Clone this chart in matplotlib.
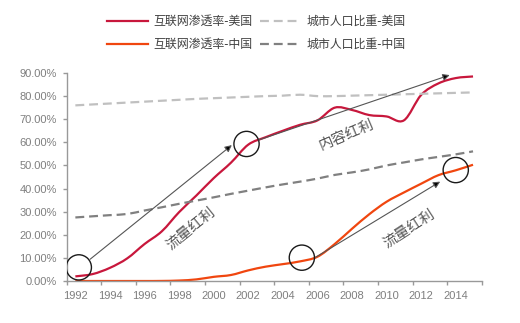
import numpy as np
import matplotlib
matplotlib.use('Agg')
import matplotlib.pyplot as plt
from matplotlib.ticker import FuncFormatter
from matplotlib.path import Path
from matplotlib.patches import PathPatch
from matplotlib.lines import Line2D

plt.rcParams['font.family'] = ['Liberation Sans', 'Noto Sans CJK SC', 'DejaVu Sans']

years = list(range(1992, 2016))

# internet penetration / urban share, in fraction
us_internet = [0.020, 0.030, 0.057, 0.098, 0.160, 0.215, 0.298, 0.370, 0.445, 0.512,
               0.590, 0.622, 0.650, 0.676, 0.695, 0.750, 0.740, 0.718, 0.712, 0.695,
               0.805, 0.855, 0.878, 0.885]
us_urban = [0.760, 0.764, 0.768, 0.772, 0.776, 0.780, 0.784, 0.788, 0.791, 0.794,
            0.797, 0.800, 0.802, 0.806, 0.800, 0.800, 0.802, 0.804, 0.806, 0.808,
            0.810, 0.812, 0.814, 0.816]
cn_internet = [0.0, 0.0, 0.0, 0.0, 0.0, 0.0003, 0.002, 0.007, 0.018, 0.026,
               0.046, 0.062, 0.073, 0.085, 0.105, 0.160, 0.226, 0.289, 0.343, 0.383,
               0.421, 0.458, 0.479, 0.503]
cn_urban = [0.275, 0.280, 0.285, 0.290, 0.305, 0.319, 0.334, 0.348, 0.362, 0.377,
            0.391, 0.405, 0.418, 0.430, 0.443, 0.459, 0.470, 0.483, 0.500, 0.513,
            0.526, 0.537, 0.548, 0.561]

labels = ['互联网渗透率-美国', '互联网渗透率-中国', '城市人口比重-美国', '城市人口比重-中国']

# annotation marks (year, value)
circles = [(1992.2, 0.059), (2001.9, 0.593), (2005.1, 0.101), (2014.0, 0.480)]
arrows = [((1992.85, 0.094), (2001.05, 0.588)),
          ((2002.6, 0.610), (2013.65, 0.891)),
          ((2005.9, 0.103), (2013.1, 0.430))]
notes = [('流量红利', 1998.7, 0.228, 39), ('内容红利', 2007.7, 0.632, 23),
         ('流量红利', 2011.3, 0.228, 33)]


def smooth_path(x, y):
    # Excel-like smoothed line: cubic bezier through the points
    x = np.asarray(x, float)
    y = np.asarray(y, float)
    n = len(x)
    verts = [(x[0], y[0])]
    codes = [Path.MOVETO]
    for i in range(n - 1):
        i0 = max(i - 1, 0)
        i3 = min(i + 2, n - 1)
        c1 = (x[i] + (x[i + 1] - x[i0]) / 6, y[i] + (y[i + 1] - y[i0]) / 6)
        c2 = (x[i + 1] - (x[i3] - x[i]) / 6, y[i + 1] - (y[i3] - y[i]) / 6)
        verts += [c1, c2, (x[i + 1], y[i + 1])]
        codes += [Path.CURVE4] * 3
    return Path(verts, codes)


fig = plt.figure(figsize=(5.2, 3.23), dpi=100)
ax = fig.add_axes([0.1283, 0.130, 0.798, 0.644])

series = [(us_internet, '#C8173C', '-'), (cn_internet, '#F0460F', '-'),
          (us_urban, '#C0C0C0', (0, (4, 2.2))), (cn_urban, '#808080', (0, (4, 2.2)))]
handles = []
for vals, col, ls in series:
    ax.add_patch(PathPatch(smooth_path(years, vals), facecolor='none', edgecolor=col,
                           lw=1.6, linestyle=ls, capstyle='butt', joinstyle='round'))
    handles.append(Line2D([], [], color=col, lw=1.6, linestyle=ls))

for cx, cy in circles:
    ax.scatter([cx], [cy], s=330, facecolors='none', edgecolors='#1a1a1a', linewidths=1.0, zorder=5)

for (x0, y0), (x1, y1) in arrows:
    ax.annotate('', xy=(x1, y1), xytext=(x0, y0),
                arrowprops=dict(arrowstyle='-|>', mutation_scale=10, lw=0.8,
                                edgecolor='#555555', facecolor='black',
                                shrinkA=0, shrinkB=0), zorder=6)

for txt, x, y, rot in notes:
    ax.text(x, y, txt, rotation=rot, ha='center', va='center', fontsize=10.5,
            color='#555555', family=['Noto Sans CJK SC'], rotation_mode='anchor')

ax.set_xlim(1991.5, 2015.5)
ax.set_ylim(0, 0.9)
ax.set_yticks(np.arange(0, 0.91, 0.1))
ax.yaxis.set_major_formatter(FuncFormatter(lambda v, p: f'{v*100:.2f}%'))
ax.set_xticks(np.arange(1991.5, 2016, 2))
ax.set_xticklabels([])
ax.set_xticks(np.arange(1992, 2015, 2), minor=True)
ax.set_xticklabels([str(y) for y in range(1992, 2015, 2)], minor=True)

for s in ['top', 'right']:
    ax.spines[s].set_visible(False)
for s in ['left', 'bottom']:
    ax.spines[s].set_color('#999999')
    ax.spines[s].set_linewidth(1.0)

ax.tick_params(axis='y', colors='#999999', labelcolor='#7f7f7f', labelsize=8, length=3, width=1, pad=4)
ax.tick_params(axis='x', which='major', colors='#999999', length=3, width=1)
ax.tick_params(axis='x', which='minor', length=0, labelcolor='#7f7f7f', labelsize=8, pad=7.5)

fig.legend(handles, labels, ncol=2, loc='center', bbox_to_anchor=(0.493, 0.898),
           frameon=False, handlelength=3.4, columnspacing=0.6, handletextpad=0.5,
           labelspacing=0.8, prop={'family': ['Noto Sans CJK SC'], 'size': 8.6},
           labelcolor='#404040')

fig.savefig('out.png', dpi=100)
